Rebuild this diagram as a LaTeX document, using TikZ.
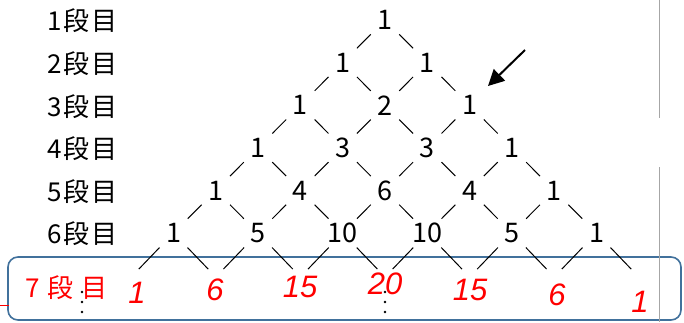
\documentclass[tikz,border=0pt]{standalone}
\usepackage{fontspec}
\usepackage{xcolor}
\newfontfamily\jpfont{Noto Sans CJK JP}
\newfontfamily\handfont{Liberation Sans}
\usetikzlibrary{arrows.meta}
\definecolor{frameBlue}{HTML}{41719C}
\definecolor{penRed}{HTML}{FF0000}

\begin{document}
\begin{tikzpicture}[x=1pt,y=-1pt,
    num/.style={circle,minimum size=40pt,inner sep=0pt,
                font=\jpfont\fontsize{27}{27}\selectfont},
    rowlabel/.style={anchor=west,inner sep=0pt,
                font=\jpfont\fontsize{26}{26}\selectfont},
    link/.style={line width=1pt},
    redval/.style={text=penRed,inner sep=0pt,
                font=\handfont\itshape\fontsize{31}{31}\selectfont}]
    \useasboundingbox (0,0) rectangle (684,322);

    % frame and margin marks
    \draw[frameBlue,line width=1.6pt,rounded corners=10pt] (8,257) rectangle (681,320);
    \draw[gray!70,line width=0.8pt] (659,0) -- (659,118) (659,167) -- (659,322);
    \draw[penRed,line width=0.8pt] (0,305) -- (9,305);

    % row labels
    \foreach \r in {1,...,6}
      \node[rowlabel] (lab\r) at (47,{21+(\r-1)*42.6}) {\r\hspace{2pt}段\hspace{2pt}目};

    % triangle
    \foreach \vals [count=\r] in {{1},{1,1},{1,2,1},{1,3,3,1},{1,4,6,4,1},{1,5,10,10,5,1}}
      \foreach \v [count=\k] in \vals
        \node[num] (n\r-\k) at ({385+(2*\k-\r-1)*42.3},{20+(\r-1)*42.6}) {\v};

    \foreach \k in {1,...,7}
      \coordinate (b\k) at ({385+(2*\k-8)*42.3},277);

    \foreach \r in {1,...,5}
      \foreach \k in {1,...,\r} {
        \pgfmathtruncatemacro\nr{\r+1}
        \pgfmathtruncatemacro\nk{\k+1}
        \draw[link] (n\r-\k) -- (n\nr-\k);
        \draw[link] (n\r-\k) -- (n\nr-\nk);
      }
    \foreach \k in {1,...,6} {
      \pgfmathtruncatemacro\nk{\k+1}
      \draw[link,shorten >=11pt] (n6-\k) -- (b\k);
      \draw[link,shorten >=11pt] (n6-\k) -- (b\nk);
    }

    % arrow
    \coordinate (arrTail) at (525,50);
    \coordinate (arrTip) at (488,86);
    \draw[line width=2pt,-{Triangle[length=16pt,width=16pt]}] (arrTail) -- (arrTip);

    % 7th row, written in red
    \node[text=penRed,anchor=west,inner sep=0pt,font=\jpfont\fontsize{26}{26}\selectfont]
      (lab7) at (25,288) {7\hspace{8pt}段\hspace{8pt}目};
    \node[redval] (v1) at (137,293) {1};
    \node[redval] (v2) at (215,290) {6};
    \node[redval] (v3) at (300,287) {15};
    \node[redval] (v4) at (385,284) {20};
    \node[redval] (v5) at (470,290) {15};
    \node[redval] (v6) at (557,295) {6};
    \node[redval] (v7) at (640,302) {1};

    % continuation dots
    \foreach \x in {82,385}
      \foreach \y in {292,302,312}
        \fill (\x,\y) circle (1.4pt);
\end{tikzpicture}
\end{document}
